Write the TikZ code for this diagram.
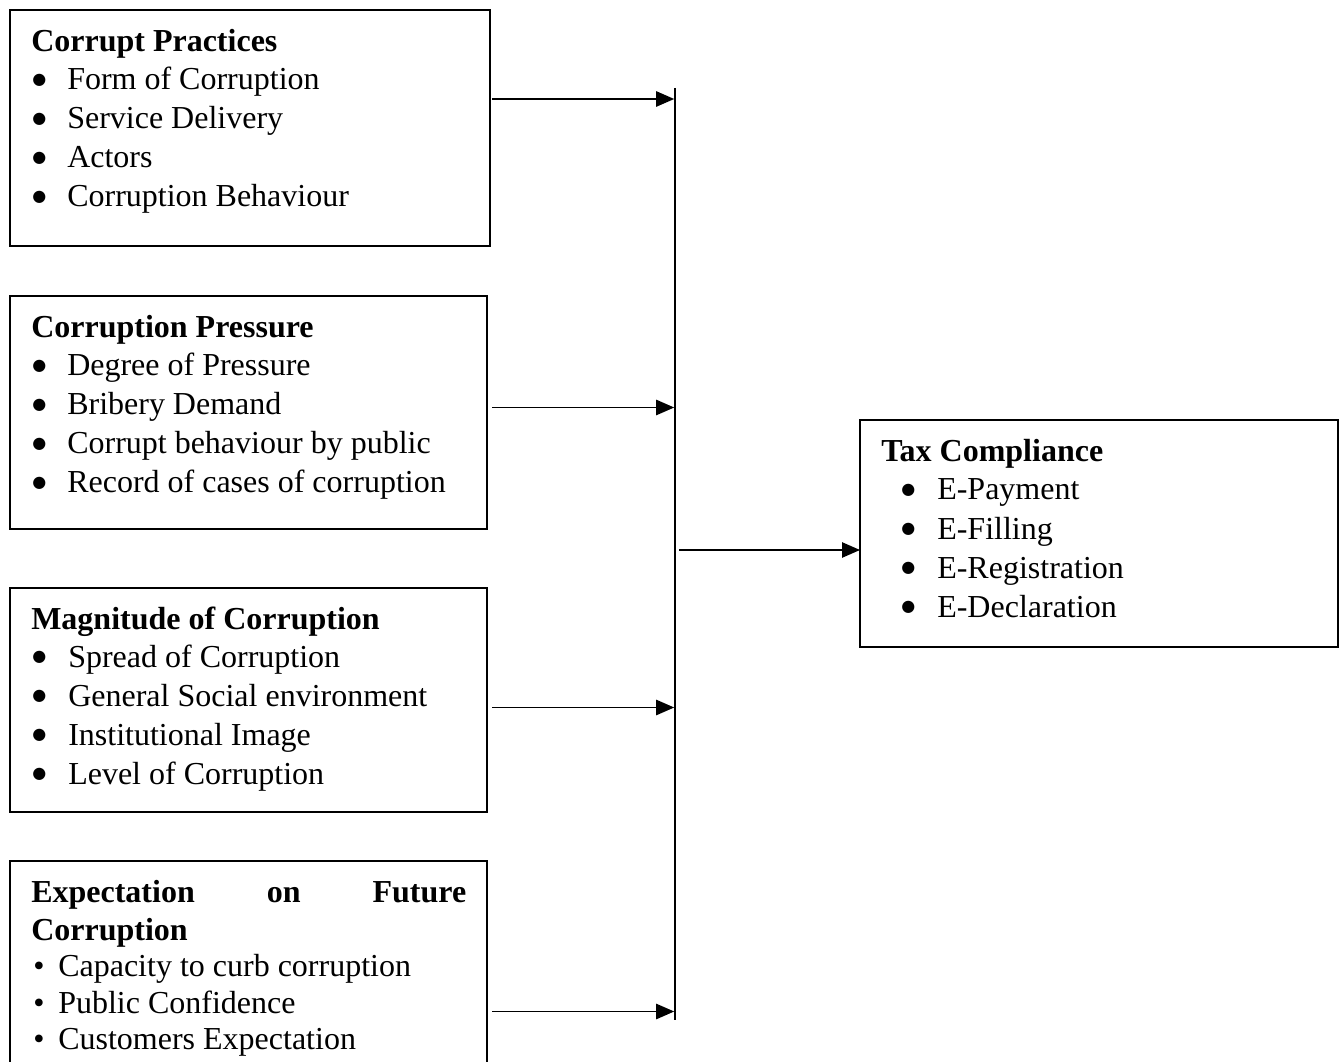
\documentclass[tikz,border=0pt]{standalone}
\usepackage{fontspec}
\setmainfont{Liberation Serif}
\newfontfamily\symfont{DejaVu Sans}
\usetikzlibrary{arrows.meta}
\newcommand\bitem[2]{\makebox[#1][l]{\textbullet}#2}
\newcommand\bigitem[2]{\makebox[#1][l]{\raisebox{4pt}{\fontsize{12}{12}\symfont ●}}#2}
\begin{document}
\begin{tikzpicture}[x=0.75pt,y=-0.75pt,
  box/.style={draw,line width=1.2pt,rectangle,inner sep=0pt,outer sep=0pt},
  nobox/.style={rectangle,inner sep=0pt,outer sep=0pt},
  txt/.style={anchor=base west,inner sep=0pt,font=\fontsize{24}{29}\selectfont},
  hd/.style={txt,font=\fontsize{24}{29}\selectfont\bfseries},
  arr/.style={-{Triangle[length=13.5pt,width=11.5pt]},line width=1.1pt}]
\useasboundingbox (0,0) rectangle (1343,1062);
\fill[white] (0,0) rectangle (1343,1062);
% boxes
\node[box,minimum width=360pt,minimum height=177pt] (b1) at (250,128) {};
\node[box,minimum width=357.75pt,minimum height=174.75pt] (b2) at (248.5,412.5) {};
\node[box,minimum width=357.75pt,minimum height=168pt] (b3) at (248.5,700) {};
\node[nobox,minimum width=357.75pt,minimum height=150.75pt] (b4) at (248.5,961.5) {};
\draw[line width=1.2pt] (b4.south west) -- (b4.north west) -- (b4.north east) -- (b4.south east);
\node[box,minimum width=358.5pt,minimum height=170.25pt] (tax) at (1099,533.5) {};
% box 1 text
\node[hd] (h1) at (31,52) {Corrupt Practices};
\node[txt] (i11) at (32,90) {\bigitem{26.25pt}{Form of Corruption}};
\node[txt] (i12) at (32,129) {\bigitem{26.25pt}{Service Delivery}};
\node[txt] (i13) at (32,168) {\bigitem{26.25pt}{Actors}};
\node[txt] (i14) at (32,207) {\bigitem{26.25pt}{Corruption Behaviour}};
% box 2 text
\node[hd] (h2) at (31,338) {Corruption Pressure};
\node[txt] (i21) at (32,376) {\bigitem{26.25pt}{Degree of Pressure}};
\node[txt] (i22) at (32,415) {\bigitem{26.25pt}{Bribery Demand}};
\node[txt] (i23) at (32,454) {\bigitem{26.25pt}{Corrupt behaviour by public}};
\node[txt] (i24) at (32,493) {\bigitem{26.25pt}{Record of cases of corruption}};
% box 3 text
\node[hd] (h3) at (31,629) {Magnitude of Corruption};
\node[txt] (i31) at (32,667) {\bigitem{27pt}{Spread of Corruption}};
\node[txt] (i32) at (32,706) {\bigitem{27pt}{General Social environment}};
\node[txt] (i33) at (32,745) {\bigitem{27pt}{Institutional Image}};
\node[txt] (i34) at (32,784) {\bigitem{27pt}{Level of Corruption}};
% box 4 text
\node[hd] (h4a) at (31,902) {\makebox[326.25pt][s]{Expectation on Future}};
\node[hd] (h4b) at (31,940) {Corruption};
\node[txt] (i41) at (33,976) {\bitem{18.75pt}{Capacity to curb corruption}};
\node[txt] (i42) at (33,1013) {\bitem{18.75pt}{Public Confidence}};
\node[txt] (i43) at (33,1049) {\bitem{18.75pt}{Customers Expectation}};
% tax text
\node[hd] (h5) at (881,462) {Tax Compliance};
\node[txt] (i51) at (901,500) {\bigitem{27pt}{E-Payment}};
\node[txt] (i52) at (901,539) {\bigitem{27pt}{E-Filling}};
\node[txt] (i53) at (901,578) {\bigitem{27pt}{E-Registration}};
\node[txt] (i54) at (901,617) {\bigitem{27pt}{E-Declaration}};
% vertical collector line
\coordinate (vtop) at (675,88);
\coordinate (vbot) at (675,1020);
\draw[line width=1.1pt] (vtop) -- (vbot);
% input arrows
\coordinate (a1) at (492,99);
\coordinate (a2) at (492,407.5);
\coordinate (a3) at (492,707.5);
\coordinate (a4) at (492,1011.5);
\draw[arr] (a1) -- ([xshift=-0.6pt]vtop |- a1);
\draw[arr] (a2) -- ([xshift=-0.6pt]vtop |- a2);
\draw[arr] (a3) -- ([xshift=-0.6pt]vtop |- a3);
\draw[arr] (a4) -- ([xshift=-0.6pt]vtop |- a4);
% output arrow
\coordinate (o1) at (679,550);
\draw[arr] (o1) -- (tax.west |- o1);
\end{tikzpicture}
\end{document}
